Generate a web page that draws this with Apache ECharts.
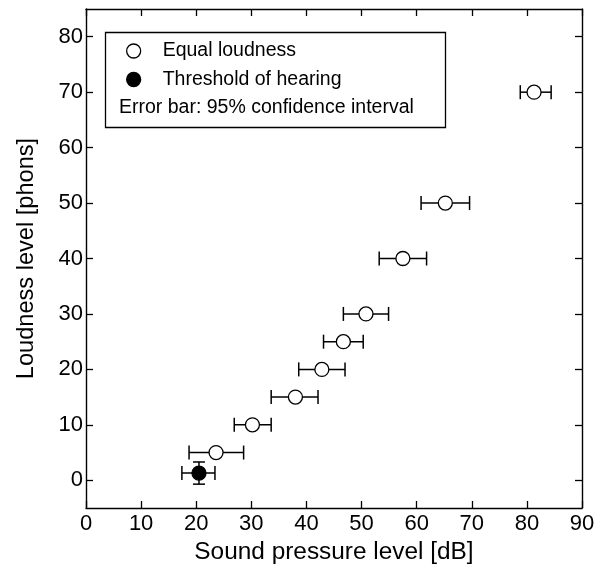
<!DOCTYPE html>
<html>
<head>
<meta charset="utf-8">
<script src="https://cdn.jsdelivr.net/npm/echarts@6/dist/echarts.min.js"></script>
<style>
html,body{margin:0;padding:0;background:#fff;}
#chart{width:600px;height:569px;}
</style>
</head>
<body>
<div id="chart"></div>
<script>
// Equal loudness (open circles)
const loudnessLevels = [5, 10, 15, 20, 25, 30, 40, 50, 70];
const splMean = [23.6, 30.2, 38.0, 42.8, 46.7, 50.8, 57.5, 65.2, 81.3];
const splLow  = [18.7, 26.9, 33.6, 38.6, 43.1, 46.7, 53.2, 60.8, 78.8];
const splHigh = [28.6, 33.6, 42.1, 47.0, 50.3, 54.9, 61.8, 69.6, 84.4];
// Threshold of hearing (filled circle)
const thrSpl = [20.5];
const thrSplLow = [17.4];
const thrSplHigh = [23.4];
const thrLevel = [1.3];
const thrLevelLow = [-0.7];
const thrLevelHigh = [3.3];
// Tick labels
const xTicks = [0, 10, 20, 30, 40, 50, 60, 70, 80, 90];
const yTicks = [0, 10, 20, 30, 40, 50, 60, 70, 80];

const FONT = 'Liberation Sans, Arial, Helvetica, sans-serif';
const chart = echarts.init(document.getElementById('chart'), null, {renderer: 'canvas'});

const hErrData = loudnessLevels.map((y, i) => [splLow[i], splHigh[i], y]);
const thrHErr = thrSpl.map((x, i) => [thrSplLow[i], thrSplHigh[i], thrLevel[i]]);
const thrVErr = thrSpl.map((x, i) => [x, thrLevelLow[i], thrLevelHigh[i]]);

function hErrRender(params, api) {
  const lo = api.value(0), hi = api.value(1), y = api.value(2);
  const p1 = api.coord([lo, y]);
  const p2 = api.coord([hi, y]);
  const cap = 7;
  const st = {stroke: '#000', lineWidth: 1.5};
  return {type: 'group', children: [
    {type: 'line', shape: {x1: p1[0], y1: p1[1], x2: p2[0], y2: p2[1]}, style: st},
    {type: 'line', shape: {x1: p1[0], y1: p1[1] - cap, x2: p1[0], y2: p1[1] + cap}, style: st},
    {type: 'line', shape: {x1: p2[0], y1: p2[1] - cap, x2: p2[0], y2: p2[1] + cap}, style: st}
  ]};
}
function vErrRender(params, api) {
  const x = api.value(0), lo = api.value(1), hi = api.value(2);
  const p1 = api.coord([x, lo]);
  const p2 = api.coord([x, hi]);
  const cap = 6;
  const st = {stroke: '#000', lineWidth: 1.5};
  return {type: 'group', children: [
    {type: 'line', shape: {x1: p1[0], y1: p1[1], x2: p2[0], y2: p2[1]}, style: st},
    {type: 'line', shape: {x1: p1[0] - cap, y1: p1[1], x2: p1[0] + cap, y2: p1[1]}, style: st},
    {type: 'line', shape: {x1: p2[0] - cap, y1: p2[1], x2: p2[0] + cap, y2: p2[1]}, style: st}
  ]};
}

const axisLine = {show: true, onZero: false, lineStyle: {color: '#000', width: 1.4}};
const tickIn = {show: true, inside: true, length: 7, lineStyle: {color: '#000', width: 1.3}};

chart.setOption({
  animation: false,
  backgroundColor: '#fff',
  grid: {left: 86, right: 18, top: 9, bottom: 61, containLabel: false},
  xAxis: [{
    type: 'value', min: 0, max: 90, interval: 10, position: 'bottom',
    name: 'Sound pressure level [dB]', nameLocation: 'middle', nameGap: 29,
    nameTextStyle: {fontFamily: FONT, fontSize: 24.4, color: '#000'},
    axisLine: axisLine,
    axisTick: Object.assign({}, tickIn, {customValues: xTicks}),
    axisLabel: {fontFamily: FONT, fontSize: 22, color: '#000', margin: 5, customValues: xTicks},
    splitLine: {show: false}
  }, {
    type: 'value', min: 0, max: 90, interval: 10, position: 'top',
    axisLine: axisLine,
    axisTick: Object.assign({}, tickIn, {customValues: xTicks}),
    axisLabel: {show: false},
    splitLine: {show: false}
  }],
  yAxis: [{
    type: 'value', min: -5, max: 85, position: 'left',
    name: 'Loudness level [phons]', nameLocation: 'middle', nameGap: 48, nameRotate: 90,
    nameTextStyle: {fontFamily: FONT, fontSize: 23.6, color: '#000'},
    axisLine: axisLine,
    axisTick: Object.assign({}, tickIn, {customValues: yTicks}),
    axisLabel: {fontFamily: FONT, fontSize: 22, color: '#000', margin: 3, customValues: yTicks},
    splitLine: {show: false}
  }, {
    type: 'value', min: -5, max: 85, position: 'right',
    axisLine: axisLine,
    axisTick: Object.assign({}, tickIn, {customValues: yTicks}),
    axisLabel: {show: false},
    splitLine: {show: false}
  }],
  legend: {
    orient: 'vertical', left: 126, top: 41, padding: 0,
    itemWidth: 14, itemHeight: 14, itemGap: 8.5,
    selectedMode: false,
    textStyle: {fontFamily: FONT, fontSize: 19.5, color: '#000', lineHeight: 20, padding: [0, 0, 0, 17]},
    data: [
      {name: 'Equal loudness', icon: 'circle', itemStyle: {color: '#fff', borderColor: '#000', borderWidth: 1.3}},
      {name: 'Threshold of hearing', icon: 'circle', itemStyle: {color: '#000', borderColor: '#000', borderWidth: 1.3}}
    ]
  },
  graphic: [
    {type: 'rect', left: 103, top: 30, shape: {width: 340, height: 95},
     style: {fill: 'none', stroke: '#000', lineWidth: 1.3}, z: 100},
    {type: 'text', left: 119, top: 98,
     style: {text: 'Error bar: 95% confidence interval', font: '19.5px ' + FONT, fill: '#000'}, z: 100}
  ],
  series: [
    {type: 'custom', name: 'errH', renderItem: hErrRender, data: hErrData,
     encode: {x: [0, 1], y: 2}, z: 1, silent: true},
    {type: 'custom', name: 'thrErrH', renderItem: hErrRender, data: thrHErr,
     encode: {x: [0, 1], y: 2}, z: 1, silent: true},
    {type: 'custom', name: 'thrErrV', renderItem: vErrRender, data: thrVErr,
     encode: {x: 0, y: [1, 2]}, z: 1, silent: true},
    {type: 'scatter', name: 'Equal loudness', symbol: 'circle', symbolSize: 14,
     data: splMean.map((x, i) => [x, loudnessLevels[i]]),
     itemStyle: {color: '#fff', borderColor: '#000', borderWidth: 1.3, opacity: 1}, z: 5},
    {type: 'scatter', name: 'Threshold of hearing', symbol: 'circle', symbolSize: 14,
     data: thrSpl.map((x, i) => [x, thrLevel[i]]),
     itemStyle: {color: '#000', borderColor: '#000', borderWidth: 1.3, opacity: 1}, z: 5}
  ]
});
</script>
</body>
</html>
